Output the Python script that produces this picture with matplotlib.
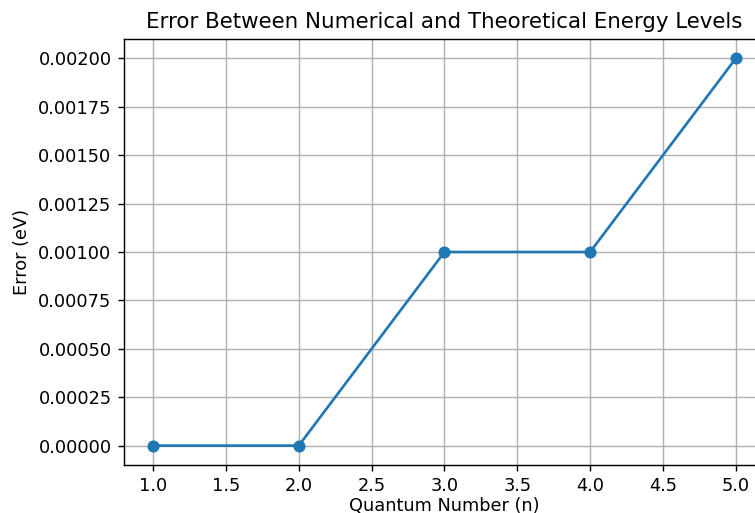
import matplotlib
matplotlib.use("Agg")
import matplotlib.pyplot as plt

n_values = [1, 2, 3, 4, 5]
errors = [0.0, 0.0, 0.001, 0.001, 0.002]

s = 1.28
plt.rcParams.update({
    'axes.linewidth': 0.8 * s,
    'xtick.major.width': 0.8 * s,
    'ytick.major.width': 0.8 * s,
    'xtick.major.size': 3.5 * s,
    'ytick.major.size': 3.5 * s,
    'xtick.major.pad': 3.5 * s,
    'ytick.major.pad': 3.5 * s,
    'grid.linewidth': 0.8 * s,
})

fig = plt.figure(figsize=(7.55, 5.13), dpi=100)
ax = fig.add_axes([0.1642, 0.0936, 0.849, 0.8304])
ax.plot(n_values, errors, marker='o', color='#1f77b4', linewidth=1.5 * s, markersize=6 * s)
ax.set_title("Error Between Numerical and Theoretical Energy Levels", fontsize=12 * s, pad=6 * s)
ax.set_xlabel("Quantum Number (n)", fontsize=10 * s, labelpad=0.8)
ax.set_ylabel("Error (eV)", fontsize=10 * s, labelpad=4 * s)
ax.tick_params(labelsize=10 * s)
ax.grid(True)
fig.savefig("out.png", dpi=100)
